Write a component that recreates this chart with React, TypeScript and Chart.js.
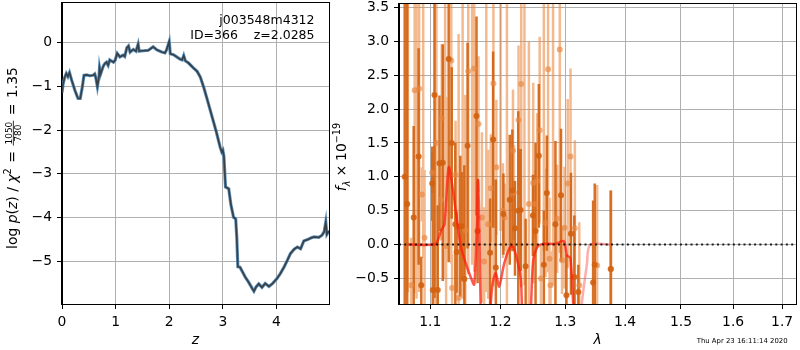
import React, { useEffect, useRef } from "react";
import { Chart, registerables } from "chart.js";
Chart.register(...registerables);

const FONT = '"DejaVu Sans", sans-serif';
const TICK_SIZE = 13.9;

// ---------- Left panel: log p(z) ----------
const zGrid = [0.0, 0.02, 0.05, 0.08, 0.11, 0.14, 0.18, 0.24, 0.28, 0.3, 0.34, 0.38, 0.41, 0.46, 0.52, 0.58, 0.61, 0.63, 0.66, 0.69, 0.7, 0.72, 0.77, 0.8, 0.83, 0.86, 0.89, 0.96, 0.99, 1.03, 1.08, 1.14, 1.17, 1.21, 1.24, 1.27, 1.33, 1.38, 1.42, 1.44, 1.52, 1.61, 1.7, 1.77, 1.86, 1.92, 1.95, 2.0, 2.02, 2.08, 2.14, 2.2, 2.24, 2.27, 2.3, 2.36, 2.45, 2.52, 2.58, 2.65, 2.72, 2.8, 2.88, 2.95, 2.98, 3.0, 3.02, 3.05, 3.11, 3.15, 3.2, 3.24, 3.26, 3.28, 3.32, 3.36, 3.42, 3.48, 3.55, 3.58, 3.62, 3.67, 3.73, 3.79, 3.86, 3.93, 4.01, 4.07, 4.14, 4.2, 4.26, 4.33, 4.39, 4.45, 4.51, 4.58, 4.65, 4.7, 4.79, 4.85, 4.89, 4.92, 4.94, 4.98];
const logPz = [-1.15, -0.95, -0.8, -0.71, -0.78, -0.69, -0.86, -1.09, -1.22, -1.28, -1.28, -1.01, -0.75, -0.74, -0.76, -0.75, -0.72, -0.8, -1.01, -0.78, -0.58, -0.72, -0.54, -0.48, -0.45, -0.52, -0.4, -0.45, -0.41, -0.25, -0.33, -0.29, -0.32, -0.12, -0.08, -0.22, -0.16, -0.2, -0.04, -0.2, -0.19, -0.18, -0.1, -0.17, -0.22, -0.24, -0.17, 0.02, -0.26, -0.28, -0.33, -0.38, -0.4, -0.3, -0.42, -0.47, -0.58, -0.66, -0.79, -1.05, -1.35, -1.7, -2.05, -2.39, -2.5, -2.46, -2.6, -3.3, -3.34, -3.7, -3.99, -4.03, -4.45, -5.12, -5.13, -5.22, -5.36, -5.47, -5.62, -5.68, -5.58, -5.51, -5.59, -5.5, -5.57, -5.5, -5.39, -5.28, -5.13, -4.98, -4.82, -4.72, -4.67, -4.71, -4.53, -4.5, -4.46, -4.44, -4.45, -4.4, -4.32, -4.1, -4.38, -4.3];
const leftXTicks = [0, 1, 2, 3, 4];
const leftYTicks = [-5, -4, -3, -2, -1, 0];
const infoLine1 = "j003548m4312";
const infoLine2 = "ID=366    z=2.0285";

// ---------- Right panel: spectrum ----------
const darkWave = [1.0658, 1.0691, 1.0777, 1.0843, 1.0879, 1.1027, 1.1035, 1.1058, 1.1103, 1.1126, 1.1172, 1.1254, 1.1296, 1.1347, 1.1365, 1.1417, 1.1436, 1.1474, 1.152, 1.1648, 1.1663, 1.1846, 1.189, 1.193, 1.2042, 1.2137, 1.2176, 1.2216, 1.2266, 1.2302, 1.2378, 1.249, 1.2531, 1.2582, 1.266, 1.2707, 1.2843, 1.2932, 1.3019, 1.3092, 1.3147, 1.3212, 1.3456, 1.3483, 1.3751];
const darkFlux = [1.0, 0.6, 0.4, 1.3, -0.6, 0.9, -0.67, 2.21, -0.67, 1.2, 1.21, 2.74, 1.5, 0.3, -0.11, 0.27, 0.27, -0.51, 1.46, 1.9, 0.2, -0.12, 1.55, -0.34, 0.45, 0.66, 0.8, 0.24, 0.5, 0.51, -0.32, 0.43, 0.2, 1.31, -0.3, 0.76, 0.3, 0.73, -0.75, 0.16, -0.48, -0.7, -0.56, -0.3, -0.36];
const darkErr = [5.0, 5.0, 1.35, 1.6, 0.42, 0.55, 1.25, 3.0, 1.25, 1.0, 1.75, 3.0, 1.12, 1.2, 0.6, 1.04, 0.8, 1.68, 1.52, 1.47, 0.77, 0.8, 1.3, 1.3, 0.6, 0.96, 0.9, 0.7, 1.47, 0.9, 0.7, 0.6, 1.3, 1.06, 0.8, 0.85, 1.23, 0.98, 0.6, 0.9, 0.91, 0.4, 1.21, 1.2, 1.16];

const lightWave = [1.07, 1.0743, 1.079, 1.0815, 1.085, 1.0887, 1.0905, 1.0923, 1.1027, 1.107, 1.1085, 1.115, 1.1158, 1.1205, 1.1218, 1.129, 1.1302, 1.135, 1.1393, 1.145, 1.1488, 1.153, 1.1585, 1.1615, 1.1677, 1.1726, 1.1759, 1.179, 1.1817, 1.1856, 1.1894, 1.1938, 1.2, 1.2035, 1.206, 1.2095, 1.2186, 1.22, 1.227, 1.2311, 1.236, 1.2428, 1.2495, 1.252, 1.2556, 1.2595, 1.2615, 1.266, 1.2687, 1.2727, 1.2749, 1.2765, 1.2805, 1.2869, 1.2912, 1.2948, 1.2987, 1.3039, 1.3085, 1.3155, 1.3228, 1.3523, 1.376];
const lightFlux = [3.9, -0.6, 2.28, 3.7, 2.3, 0.74, 3.8, 0.1, 1.06, 3.9, 1.5, 0.66, 1.87, 4.0, -0.02, 2.72, -0.64, 1.03, -0.79, 3.8, 0.21, 2.56, 3.9, 2.6, 1.78, 0.4, -0.25, 3.7, 0.3, 0.83, 2.38, 1.14, 3.8, 0.5, 0.4, 3.7, 1.39, 0.77, 1.84, 2.37, 3.9, 0.6, 0.91, 0.6, 0.94, 1.69, -0.5, 3.8, 0.32, 2.59, -0.21, -0.6, 3.7, 0.38, 2.88, -0.23, 0.25, 0.9, 1.3, 0.24, -0.6, -0.31, -0.36];
const lightErr = [4.6, 0.7, 3.0, 4.5, 3.0, 0.4, 4.0, 1.0, 0.3, 4.8, 3.0, 0.6, 1.09, 4.5, 2.2, 3.0, 0.5, 0.8, 3.9, 4.6, 2.0, 3.0, 4.2, 3.0, 1.0, 1.26, 0.8, 4.4, 1.1, 0.8, 3.0, 1.0, 3.6, 0.7, 0.5, 4.6, 0.9, 0.7, 1.1, 3.0, 4.5, 2.4, 1.48, 0.5, 1.0, 1.38, 0.5, 3.9, 0.8, 3.0, 0.9, 0.5, 4.3, 0.8, 3.0, 0.5, 0.9, 1.25, 1.3, 1.3, 0.93, 1.19, 1.16];

const modelWave = [1.0698, 1.1058, 1.1099, 1.115, 1.1195, 1.1254, 1.131, 1.1357, 1.1427, 1.1498, 1.1568, 1.1615, 1.1648, 1.1668, 1.1687, 1.1711, 1.1759, 1.1831, 1.188, 1.193, 1.1978, 1.2052, 1.2126, 1.2176, 1.2226, 1.2302, 1.2326, 1.2383, 1.2454, 1.2494, 1.2556, 1.2634, 1.2843, 1.2975, 1.3028, 1.3083, 1.3136, 1.3185];
const modelFlux = [0, 0, 0.05, 0.21, 0.3, 1.14, 0.83, 0.46, -0.04, -0.29, -0.49, -0.59, 0.16, 0.95, 0.4, -1.0, -2.0, -1.2, -0.59, -0.42, -0.62, -0.29, -0.07, -0.02, -0.14, -0.49, -1.0, -1.6, -1.0, -0.24, -0.04, 0.01, 0.01, 0.05, -0.16, -0.2, -1.0, -1.5];
const model2Wave = [1.3233, 1.3266, 1.3353, 1.3408, 1.3742];
const model2Flux = [-1.5, -0.9, -0.29, 0, 0];

const zeroWave = [1.0583, 1.7295];
const rightXTicks = [1.1, 1.2, 1.3, 1.4, 1.5, 1.6, 1.7];
const rightYTicks = [-0.5, 0, 0.5, 1, 1.5, 2, 2.5, 3, 3.5];
const timestamp = "Thu Apr 23 16:11:14 2020";

// ---------- helpers ----------
const fmt = (v: number, d: number) => (v < 0 ? "\u2212" : "") + Math.abs(v).toFixed(d);

function axis(ticksArr: number[], digits: number, sizeKey: "width" | "height", size: number, extra: any = {}) {
  return {
    ...extra,
    afterBuildTicks: (s: any) => {
      s.ticks = ticksArr.map((v) => ({ value: v }));
    },
    afterFit: (s: any) => {
      s[sizeKey] = size;
      s.paddingTop = 0;
      s.paddingBottom = 0;
      s.paddingLeft = 0;
      s.paddingRight = 0;
    },
    grid: { color: "#b0b0b0", lineWidth: 1, tickLength: 5, tickColor: "#000", tickWidth: 1, drawTicks: true },
    border: { display: true, color: "#000", width: 1 },
    ticks: {
      font: { family: FONT, size: TICK_SIZE },
      color: "#000",
      padding: 5,
      autoSkip: false,
      maxRotation: 0,
      minRotation: 0,
      callback: (v: any) => fmt(Number(v), digits),
    },
  };
}

type Piece = { t?: string; italic?: boolean; size?: number; dy?: number; gap?: number; frac?: [string, string] };

function drawMath(ctx: CanvasRenderingContext2D, pieces: Piece[], cx: number, cy: number, base: number) {
  ctx.save();
  ctx.translate(cx, cy);
  ctx.rotate(-Math.PI / 2);
  ctx.fillStyle = "#000";
  ctx.textBaseline = "alphabetic";
  const setFont = (p: Piece) => {
    ctx.font = `${p.italic ? "italic " : ""}${p.size ?? base}px ${FONT}`;
  };
  const widths = pieces.map((p) => {
    setFont(p);
    if (p.frac) return Math.max(ctx.measureText(p.frac[0]).width, ctx.measureText(p.frac[1]).width) + 2;
    return ctx.measureText(p.t || "").width;
  });
  const total = widths.reduce((s, w, i) => s + w + (pieces[i].gap ?? 0), 0);
  let x = -total / 2;
  pieces.forEach((p, i) => {
    setFont(p);
    const w = widths[i];
    if (p.frac) {
      const sz = p.size ?? base;
      const bar = -3.2;
      ctx.textAlign = "center";
      ctx.fillText(p.frac[0], x + w / 2, bar - 1.3);
      ctx.fillText(p.frac[1], x + w / 2, bar + 1.3 + sz * 0.73);
      ctx.fillRect(x, bar - 0.4, w, 0.8);
      ctx.textAlign = "left";
    } else {
      ctx.textAlign = "left";
      ctx.fillText(p.t || "", x, p.dy ?? 0);
    }
    x += w + (p.gap ?? 0);
  });
  ctx.restore();
}

const framePlugin = {
  id: "frame",
  afterDatasetsDraw(chart: any) {
    const { ctx, chartArea: a } = chart;
    ctx.save();
    ctx.strokeStyle = "#000";
    ctx.lineWidth = 1;
    ctx.strokeRect(Math.round(a.left) - 0.5, Math.round(a.top) - 0.5, Math.round(a.right - a.left) + 1, Math.round(a.bottom - a.top) + 1);
    ctx.restore();
  },
};

const leftText = {
  id: "leftText",
  afterDraw(chart: any) {
    const ctx = chart.ctx as CanvasRenderingContext2D;
    const a = chart.chartArea;
    ctx.save();
    ctx.fillStyle = "#000";
    ctx.font = `12.5px ${FONT}`;
    ctx.textAlign = "right";
    ctx.textBaseline = "alphabetic";
    ctx.fillText(infoLine1, 314.5, 23.5);
    ctx.fillText(infoLine2, 314.5, 39);
    ctx.font = `italic ${TICK_SIZE}px ${FONT}`;
    ctx.textAlign = "center";
    ctx.fillText("z", (a.left + a.right) / 2, 343.5);
    ctx.restore();
    drawMath(
      ctx,
      [
        { t: "log", gap: 4.5 },
        { t: "p", italic: true },
        { t: "(" },
        { t: "z", italic: true },
        { t: ")", gap: 4.5 },
        { t: "/", gap: 4.5 },
        { t: "\u03c7", italic: true },
        { t: "2", size: 9.7, dy: -6, gap: 5.5 },
        { t: "=", gap: 5.5 },
        { frac: ["1050", "780"], size: 9, gap: 5.5 },
        { t: "=", gap: 5.5 },
        { t: "1.35" },
      ],
      16.5,
      158,
      TICK_SIZE
    );
  },
};

const rightText = {
  id: "rightText",
  afterDraw(chart: any) {
    const ctx = chart.ctx as CanvasRenderingContext2D;
    const a = chart.chartArea;
    ctx.save();
    ctx.fillStyle = "#000";
    ctx.font = `italic ${TICK_SIZE}px ${FONT}`;
    ctx.textAlign = "center";
    ctx.textBaseline = "alphabetic";
    ctx.fillText("\u03bb", (a.left + a.right) / 2, 343.5);
    ctx.font = `6.9px ${FONT}`;
    ctx.textAlign = "left";
    ctx.fillText(timestamp, 366.7, 342.5);
    ctx.restore();
    drawMath(
      ctx,
      [
        { t: "f", italic: true },
        { t: "\u03bb", italic: true, size: 9.7, dy: 3.5, gap: 4 },
        { t: "\u00d7", gap: 4 },
        { t: "10" },
        { t: "\u221219", size: 9.7, dy: -6.6 },
      ],
      16.3,
      157,
      TICK_SIZE
    );
  },
};

function errorSegments(w: number[], f: number[], e: number[]) {
  const out: any[] = [];
  w.forEach((x, i) => {
    out.push({ x, y: f[i] - e[i] });
    out.push({ x, y: f[i] + e[i] });
    out.push({ x, y: null });
  });
  return out;
}

const DARK = "rgba(210,98,15,0.9)";
const LIGHT = "rgba(235,140,70,0.6)";

export default function App() {
  const leftRef = useRef<HTMLCanvasElement>(null);
  const rightRef = useRef<HTMLCanvasElement>(null);

  useEffect(() => {
    const pz = zGrid.map((z, i) => ({ x: z, y: logPz[i] }));
    const left = new Chart(leftRef.current!, {
      type: "line",
      data: {
        datasets: [
          { data: pz, borderColor: "rgba(45,45,45,0.8)", borderWidth: 1.7, pointRadius: 0, clip: 0 } as any,
          { data: pz, borderColor: "rgba(80,135,180,0.9)", borderWidth: 3.2, pointRadius: 0, clip: 0 } as any,
        ],
      },
      options: {
        animation: false,
        responsive: false,
        devicePixelRatio: 1,
        events: [],
        layout: { padding: { left: 0, top: 3, right: 1, bottom: 0 } },
        plugins: { legend: { display: false }, tooltip: { enabled: false } },
        scales: {
          x: axis(leftXTicks, 0, "height", 46, { type: "linear", min: 0, max: 4.98 }) as any,
          y: axis(leftYTicks, 0, "width", 62, { type: "linear", min: -5.97, max: 0.9 }) as any,
        },
      },
      plugins: [framePlugin, leftText],
    });

    const right = new Chart(rightRef.current!, {
      type: "line",
      data: {
        datasets: [
          {
            data: zeroWave.map((x) => ({ x, y: 0 })),
            borderColor: "rgba(0,0,0,0.85)",
            borderWidth: 2,
            borderDash: [2, 3.3],
            pointRadius: 0,
            clip: 0,
          } as any,
          {
            data: modelWave.map((x, i) => ({ x, y: modelFlux[i] })),
            borderColor: "rgba(255,25,10,0.72)",
            borderWidth: 2.5,
            pointRadius: 0,
            tension: 0.3,
            clip: 0,
          } as any,
          {
            data: model2Wave.map((x, i) => ({ x, y: model2Flux[i] })),
            borderColor: "rgba(255,70,70,0.45)",
            borderWidth: 2.5,
            pointRadius: 0,
            tension: 0.3,
            clip: 0,
          } as any,
          {
            data: darkWave.map((x, i) => ({ x, y: darkFlux[i] })),
            showLine: false,
            pointRadius: 3,
            pointBorderWidth: 0,
            pointBackgroundColor: DARK,
            clip: 0,
          } as any,
          {
            data: lightWave.map((x, i) => ({ x, y: lightFlux[i] })),
            showLine: false,
            pointRadius: 3,
            pointBorderWidth: 0,
            pointBackgroundColor: "rgba(230,135,65,0.65)",
            clip: 0,
          } as any,
          {
            data: errorSegments(darkWave, darkFlux, darkErr),
            borderColor: DARK,
            borderWidth: 2.5,
            borderCapStyle: "butt",
            spanGaps: false,
            pointRadius: 0,
            clip: 0,
          } as any,
          {
            data: errorSegments(lightWave, lightFlux, lightErr),
            borderColor: LIGHT,
            borderWidth: 2.5,
            borderCapStyle: "butt",
            spanGaps: false,
            pointRadius: 0,
            clip: 0,
          } as any,
        ],
      },
      options: {
        animation: false,
        responsive: false,
        devicePixelRatio: 1,
        events: [],
        layout: { padding: { left: 0, top: 3, right: 1, bottom: 0 } },
        plugins: { legend: { display: false }, tooltip: { enabled: false } },
        scales: {
          x: axis(rightXTicks, 1, "height", 46, { type: "logarithmic", min: 1.0583, max: 1.7295 }) as any,
          y: axis(rightYTicks, 1, "width", 69, { type: "linear", min: -0.878, max: 3.553 }) as any,
        },
      },
      plugins: [framePlugin, rightText],
    });

    return () => {
      left.destroy();
      right.destroy();
    };
  }, []);

  return (
    <div style={{ position: "fixed", left: 0, top: 0, width: 800, height: 350, background: "#fff" }}>
      <canvas ref={leftRef} width={330} height={350} style={{ position: "absolute", left: 0, top: 0 }} />
      <canvas ref={rightRef} width={470} height={350} style={{ position: "absolute", left: 330, top: 0 }} />
    </div>
  );
}
